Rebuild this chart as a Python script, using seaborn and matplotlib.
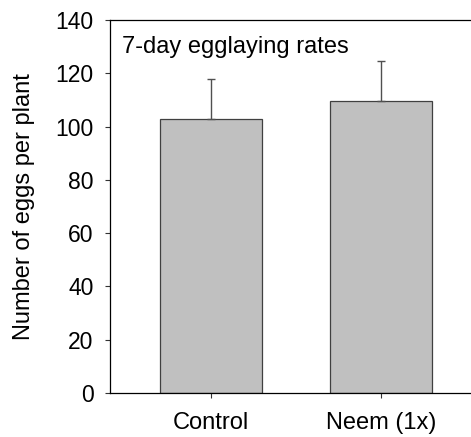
import matplotlib
matplotlib.use("Agg")
import matplotlib.pyplot as plt
import seaborn as sns
import pandas as pd

categories = ["Control", "Neem (1x)"]
means = [103.0, 109.6]
errors = [14.9, 15.0]

sns.set_style("white")
plt.rcParams['font.family'] = ['Liberation Sans', 'DejaVu Sans']
plt.rcParams['text.color'] = 'black'
plt.rcParams['axes.labelcolor'] = 'black'
plt.rcParams['xtick.color'] = 'black'
plt.rcParams['ytick.color'] = 'black'

df = pd.DataFrame({"treatment": categories, "eggs": means})

fig = plt.figure(figsize=(4.71, 4.37), dpi=100)
ax = fig.add_axes([0.2325, 0.1007, 0.7675, 0.8535])

sns.barplot(data=df, x="treatment", y="eggs", ax=ax, color="#c0c0c0",
            edgecolor="#404040", linewidth=0.9, width=0.6, saturation=1, errorbar=None)
ax.errorbar(range(len(categories)), means, yerr=[[0] * len(errors), errors],
            fmt="none", ecolor="#505050", elinewidth=1.0, capsize=3, capthick=1.0)

ax.set_ylim(0, 140)
ax.set_xlim(-0.6, 1.53)
ax.set_yticks(range(0, 141, 20))
ax.set_xlabel("")
ax.set_ylabel("Number of eggs per plant", fontsize=17, color="black")
ax.yaxis.set_label_coords(-0.2365, 0.5)
ax.yaxis.label.set_verticalalignment("center")
ax.tick_params(axis="both", direction="out", length=3.6, width=0.8,
               color="#333333", labelcolor="black", left=True, bottom=True)
ax.tick_params(axis="y", labelsize=16.5, pad=8)
ax.tick_params(axis="x", labelsize=17, pad=10)
for s in ["left", "bottom", "top"]:
    ax.spines[s].set_visible(True)
    ax.spines[s].set_color("black")
    ax.spines[s].set_linewidth(0.9)
ax.spines["right"].set_visible(False)

ax.text(0.035, 0.912, "7-day egglaying rates", transform=ax.transAxes,
        fontsize=17, va="baseline", ha="left", color="black")

fig.savefig("out.png", dpi=100)
